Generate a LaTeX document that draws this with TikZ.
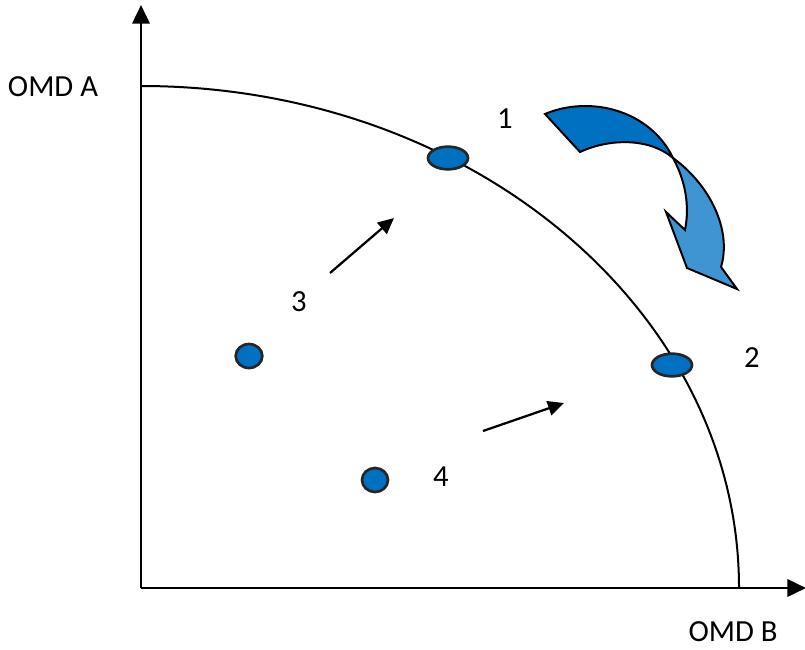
\documentclass[tikz,border=0pt]{standalone}
\usepackage{fontspec}
\setmainfont{Carlito}
\usetikzlibrary{arrows.meta,shapes.geometric}
\definecolor{dotblue}{HTML}{0070C0}
\definecolor{lightblue}{HTML}{3F95D2}
\tikzset{
  axis/.style={line width=2pt,-{Triangle[length=14pt,width=13pt]}},
  frontier/.style={line width=1.5pt},
  dot/.style={ellipse,draw=black!85,line width=2pt,fill=dotblue,inner sep=0pt},
  move/.style={line width=1.7pt,-{Triangle[length=12pt,width=11pt]}},
  lbl/.style={font=\fontsize{23}{27}\selectfont,inner sep=0pt},
  band/.style={draw=black,line width=1.5pt,line join=miter}
}
\begin{document}
\begin{tikzpicture}[x=0.75pt,y=-0.75pt]
\useasboundingbox (0,0) rectangle (805,649);
% axes
\coordinate (O) at (141,588);
\coordinate (ytop) at (141,5);
\coordinate (xend) at (806,588);
\draw[axis] (O) -- (ytop);
\draw[axis] (O) -- (xend);
% frontier (quarter ellipse)
\draw[frontier] (141,86) arc[start angle=-90,end angle=0,x radius=598,y radius=502];
% dots
\node[dot,minimum width=30pt,minimum height=17pt] (p1) at (448,158) {};
\node[dot,minimum width=30pt,minimum height=17pt] (p2) at (672,365) {};
\node[dot,minimum width=20pt,minimum height=18pt] (p3) at (249,356) {};
\node[dot,minimum width=19.5pt,minimum height=18pt] (p4) at (375,480) {};
% movement arrows
\coordinate (a3s) at (330,273);
\coordinate (a3e) at (394,218);
\coordinate (a4s) at (483,431);
\coordinate (a4e) at (564,403);
\draw[move] (a3s) -- (a3e);
\draw[move] (a4s) -- (a4e);
% curved twisted arrow
\fill[dotblue] (545,114) .. controls (590,95) and (650,110) .. (673,158)
   .. controls (650,138) and (610,138) .. (580,152) -- cycle;
\draw[band] (545,114) .. controls (590,95) and (650,110) .. (673,158)
   .. controls (650,138) and (610,138) .. (580,152) -- cycle;
\fill[lightblue] (673,158) .. controls (710,185) and (732,230) .. (721,267)
   -- (737,289) -- (687,268) -- (666,212) -- (685,230)
   .. controls (690,205) and (685,180) .. (673,158) -- cycle;
\draw[band] (673,158) .. controls (710,185) and (732,230) .. (721,267)
   -- (737,289) -- (687,268) -- (666,212) -- (685,230)
   .. controls (690,205) and (685,180) .. (673,158) -- cycle;
% labels
\node[lbl] (la) at (53,87) {OMD A};
\node[lbl] (lb) at (733,632) {OMD B};
\node[lbl] (l1) at (505,119) {1};
\node[lbl] (l2) at (752,358) {2};
\node[lbl] (l3) at (299,302) {3};
\node[lbl] (l4) at (441,477) {4};
\end{tikzpicture}
\end{document}
